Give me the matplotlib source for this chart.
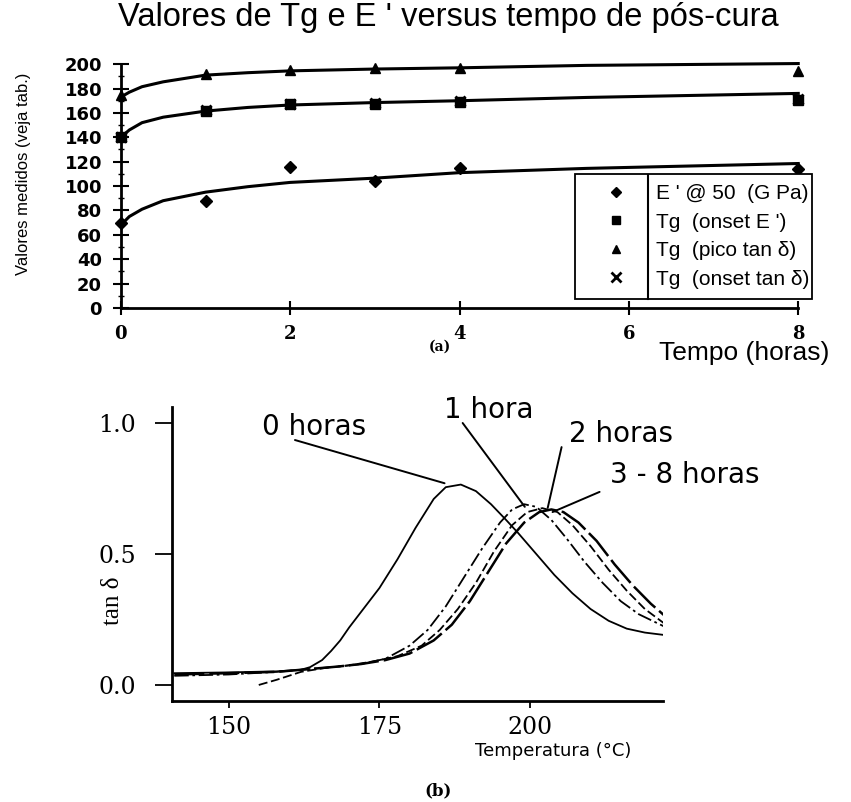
import matplotlib
matplotlib.use("Agg")
import matplotlib.pyplot as plt
from matplotlib.lines import Line2D
from matplotlib.ticker import MultipleLocator

# (a) valores medidos vs tempo de pos-cura
horas = [0, 1, 2, 3, 4, 8]
e_mod = [69.5, 87.5, 115.5, 104, 114.5, 114]          # E' @ 50 (GPa)
tg_onset_e = [140, 161.5, 167, 167, 169, 171]         # Tg (onset E')
tg_pico = [174.5, 192, 195.5, 196.5, 196.5, 194.5]    # Tg (pico tan d)
tg_onset_tan = [140.5, 162, 167.5, 168, 169.5, 171.5] # Tg (onset tan d)

# curvas de ajuste
fit_horas = [0, 0.1, 0.25, 0.5, 1, 1.5, 2, 3, 4, 5.5, 8]
fit_pico = [173, 177, 181.5, 185.5, 191, 193, 194.5, 196, 197, 199, 200.5]
fit_onset = [140, 146, 152, 156.5, 161.5, 164.5, 166.5, 168.5, 170, 172.7, 176]
fit_e = [68, 75, 81, 88, 95, 99.5, 103, 106.5, 111, 114.5, 118.5]

# (b) tan delta vs temperatura
temp_0h = [141, 150, 158, 162, 163.5, 165.5, 167, 168.5, 170, 173, 175, 178, 181,
           184, 186, 188.5, 191, 193.5, 196, 198, 201, 204, 207, 210, 213, 216,
           219, 222.5]
tand_0h = [0.045, 0.048, 0.052, 0.058, 0.068, 0.095, 0.13, 0.17, 0.22, 0.31, 0.37,
           0.48, 0.60, 0.71, 0.755, 0.765, 0.74, 0.69, 0.63, 0.58, 0.50, 0.42,
           0.35, 0.29, 0.245, 0.215, 0.20, 0.19]
temp_1h = [141, 150, 158, 163, 168, 172, 176, 180, 183, 186, 189, 192, 195, 197,
           199, 201, 203.5, 206, 209, 212, 215, 218, 222.5]
tand_1h = [0.035, 0.04, 0.05, 0.06, 0.07, 0.08, 0.10, 0.15, 0.21, 0.30, 0.41,
           0.52, 0.62, 0.67, 0.69, 0.68, 0.63, 0.56, 0.47, 0.39, 0.32, 0.27, 0.22]
temp_2h = [155, 158, 162, 166, 170, 174, 178, 182, 185, 188, 191, 194, 197,
           199.5, 202, 204.5, 207, 210, 213, 216, 219, 222.5]
tand_2h = [0.0, 0.02, 0.05, 0.065, 0.075, 0.09, 0.11, 0.15, 0.21, 0.29, 0.39,
           0.51, 0.61, 0.66, 0.675, 0.66, 0.61, 0.53, 0.44, 0.36, 0.29, 0.23]
temp_38h = [141, 150, 158, 163, 168, 172, 176, 180, 184, 187, 190, 193, 196, 199,
            201.5, 203.5, 205.5, 208, 211, 214, 217, 220, 222.5]
tand_38h = [0.04, 0.045, 0.05, 0.06, 0.07, 0.08, 0.095, 0.12, 0.17, 0.23, 0.32,
            0.43, 0.54, 0.62, 0.66, 0.67, 0.66, 0.62, 0.55, 0.46, 0.38, 0.31, 0.26]

sans = ['Liberation Sans', 'DejaVu Sans']

fig = plt.figure(figsize=(8.51, 8.02), dpi=100)

# ---------------- (a) ----------------
ax = fig.add_axes([0.142, 0.616, 0.796, 0.304])
ax.plot(fit_horas, fit_pico, 'k-', lw=2.2, clip_on=False)
ax.plot(fit_horas, fit_onset, 'k-', lw=2.2, clip_on=False)
ax.plot(fit_horas, fit_e, 'k-', lw=2.2, clip_on=False)
ax.plot(horas, e_mod, 'kD', ms=6, clip_on=False, zorder=5)
ax.plot(horas, tg_onset_e, 'ks', ms=7, clip_on=False, zorder=5)
ax.plot(horas, tg_pico, 'k^', ms=7, clip_on=False, zorder=5)
ax.plot(horas, tg_onset_tan, 'kx', ms=7, mew=2, clip_on=False, zorder=6)

ax.set_xlim(0, 8)
ax.set_ylim(0, 200)
ax.set_xticks([0, 2, 4, 6, 8])
ax.set_yticks(range(0, 201, 20))
ax.yaxis.set_minor_locator(MultipleLocator(10))
for s in ['top', 'right']:
    ax.spines[s].set_visible(False)
for s in ['left', 'bottom']:
    ax.spines[s].set_linewidth(2)
ax.tick_params(axis='y', which='major', direction='inout', length=11, width=1.5, pad=8)
ax.tick_params(axis='y', which='minor', direction='inout', length=5, width=1)
ax.tick_params(axis='x', direction='inout', length=10, width=1.5, pad=7)
for lab in ax.get_yticklabels():
    lab.set_fontfamily('DejaVu Sans')
    lab.set_fontweight('bold')
    lab.set_fontsize(13)
for lab in ax.get_xticklabels():
    lab.set_fontfamily('DejaVu Serif')
    lab.set_fontweight('bold')
    lab.set_fontsize(13)

ax.set_ylabel('Valores medidos (veja tab.)', family=sans, fontsize=12)
ax.yaxis.set_label_coords(-0.133, 0.55)

handles = [Line2D([], [], color='k', marker='D', ls='none', ms=5),
           Line2D([], [], color='k', marker='s', ls='none', ms=6),
           Line2D([], [], color='k', marker='^', ls='none', ms=6),
           Line2D([], [], color='k', marker='x', ls='none', ms=7, mew=2)]
labels = ["E ' @ 50  (G Pa)", "Tg  (onset E ')", "Tg  (pico tan δ)", "Tg  (onset tan δ)"]
leg = ax.legend(handles, labels, loc='lower left', bbox_to_anchor=(0.671, 0.037, 0.35, 0.508),
                mode='expand', frameon=True, fancybox=False, framealpha=1,
                edgecolor='black', borderpad=0.5, labelspacing=0.45,
                handlelength=2.9, handletextpad=0.45, borderaxespad=0,
                prop={'family': sans, 'size': 15})
leg.get_frame().set_linewidth(1.3)
ax.plot([0.778, 0.778], [0.037, 0.545], transform=ax.transAxes, color='k', lw=1.5,
        clip_on=False, zorder=10)

fig.text(0.527, 0.978, "Valores de Tg e E ' versus tempo de pós-cura",
         family=sans, fontsize=23.5, ha='center', va='center')
fig.text(0.875, 0.560, 'Tempo (horas)', family=sans, fontsize=19, ha='center', va='center')
fig.text(0.517, 0.568, '(a)', family='DejaVu Serif', fontweight='bold', fontsize=10,
         ha='center', va='center')

# ---------------- (b) ----------------
bx = fig.add_axes([0.202, 0.126, 0.577, 0.3665])
bx.plot(temp_0h, tand_0h, color='k', lw=1.3)
bx.plot(temp_1h, tand_1h, color='k', lw=1.3, ls=(0, (8, 2, 1.5, 2)))
bx.plot(temp_2h, tand_2h, color='k', lw=1.3, ls=(0, (5, 2)))
bx.plot(temp_38h, tand_38h, color='k', lw=1.8, ls=(0, (12, 2)))

bx.set_xlim(140.6, 222)
bx.set_ylim(-0.061, 1.061)
bx.set_xticks([150, 175, 200])
bx.set_yticks([0.0, 0.5, 1.0])
bx.set_yticklabels(['0.0', '0.5', '1.0'])
for s in ['top', 'right']:
    bx.spines[s].set_visible(False)
for s in ['left', 'bottom']:
    bx.spines[s].set_linewidth(2)
bx.tick_params(axis='y', direction='out', length=12, width=1.3, pad=14)
bx.tick_params(axis='x', direction='out', length=5, width=1.3, pad=6)
for lab in bx.get_xticklabels() + bx.get_yticklabels():
    lab.set_fontfamily('DejaVu Serif')
    lab.set_fontsize(17)

bx.set_ylabel('tan δ', family='Liberation Serif', fontsize=18)
bx.yaxis.set_label_coords(-0.098, 0.34)
fig.text(0.650, 0.064, 'Temperatura (°C)', family='DejaVu Sans', fontsize=13,
         ha='center', va='center')
fig.text(0.515, 0.014, '(b)', family='DejaVu Serif', fontweight='bold', fontsize=12,
         ha='center', va='center')

ann = dict(family='DejaVu Sans', fontsize=20, ha='center', va='center')
bx.text(164.1, 0.985, '0 horas', **ann)
bx.text(193.1, 1.05, '1 hora', **ann)
bx.text(215.1, 0.958, '2 horas', **ann)
bx.text(225.7, 0.80, '3 - 8 horas', **ann)
lead = dict(arrowstyle='-', lw=1.4, color='k', shrinkA=0, shrinkB=0)
bx.annotate('', xy=(185.8, 0.77), xytext=(161, 0.935), arrowprops=lead)
bx.annotate('', xy=(199.1, 0.68), xytext=(188.8, 1.0), arrowprops=lead)
bx.annotate('', xy=(202.9, 0.676), xytext=(205.2, 0.908), arrowprops=lead)
bx.annotate('', xy=(203.7, 0.66), xytext=(211.5, 0.737), arrowprops=lead)

fig.savefig('out.png', dpi=100)
